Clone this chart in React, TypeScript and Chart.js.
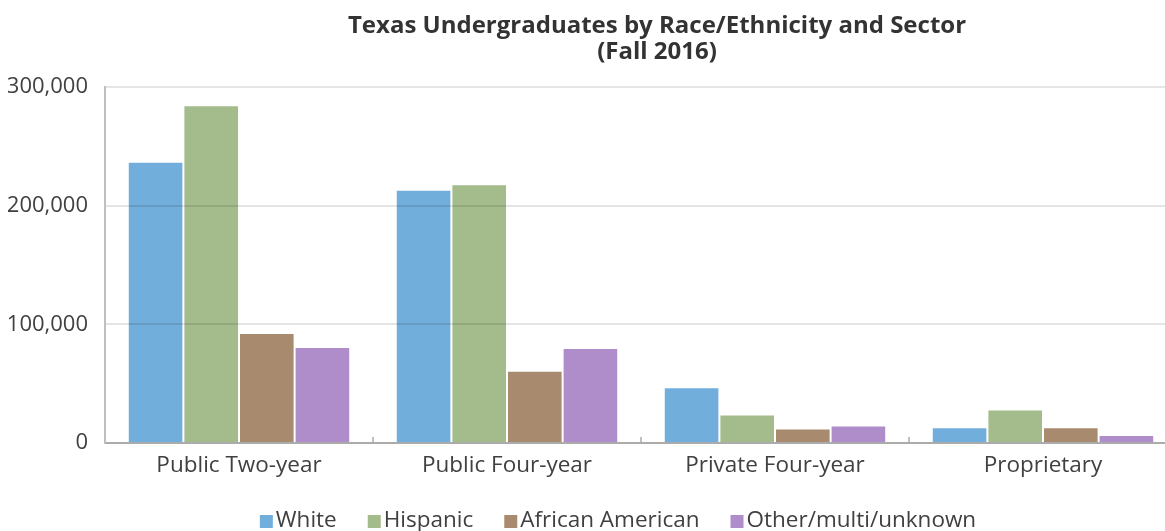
import React, { useEffect, useRef } from 'react';
import { Chart, registerables } from 'chart.js';

Chart.register(...registerables);

const categories = ['Public Two-year', 'Public Four-year', 'Private Four-year', 'Proprietary'];
const seriesLabels = ['White', 'Hispanic', 'African American', 'Other/multi/unknown'];
const whiteValues = [237000, 213500, 47000, 13300];
const hispanicValues = [284700, 218000, 24000, 28200];
const africanAmericanValues = [92600, 60800, 12200, 13300];
const otherValues = [80800, 80000, 14700, 6800];
const yTickValues = [0, 100000, 200000, 300000];
const titleLines = ['Texas Undergraduates by Race/Ethnicity and Sector', '(Fall 2016)'];

const seriesColors = ['#72aedb', '#a4bb8c', '#a88b6e', '#af8cca'];
const FONT = '"Open Sans", "Noto Sans", sans-serif';
const TEXT = '#404040';

const titlePlugin = {
  id: 'customTitle',
  afterDraw(chart: any) {
    const ctx = chart.ctx;
    ctx.save();
    ctx.fillStyle = '#333333';
    ctx.textAlign = 'center';
    ctx.textBaseline = 'middle';
    ctx.font = `bold 24px ${FONT}`;
    ctx.fillText(titleLines[0], 657, 26);
    ctx.fillText(titleLines[1], 657, 52);
    ctx.restore();
  },
};

const legendPlugin = {
  id: 'customLegend',
  afterDraw(chart: any) {
    const ctx = chart.ctx;
    ctx.save();
    ctx.font = `22.5px ${FONT}`;
    const box = 13;
    const gap = 3;
    const spacing = 31;
    const widths = seriesLabels.map((l) => box + gap + ctx.measureText(l).width);
    const total = widths.reduce((a, b) => a + b, 0) + spacing * (seriesLabels.length - 1);
    let x = 618 - total / 2;
    const cy = 521;
    ctx.textBaseline = 'middle';
    ctx.textAlign = 'left';
    seriesLabels.forEach((l, i) => {
      ctx.fillStyle = seriesColors[i];
      ctx.fillRect(x, cy - 6, box, box);
      ctx.fillStyle = TEXT;
      ctx.fillText(l, x + box + gap, cy);
      x += widths[i] + spacing;
    });
    ctx.restore();
  },
};

const tickMarkPlugin = {
  id: 'categoryTicks',
  afterDatasetsDraw(chart: any) {
    const ctx = chart.ctx;
    const xs = chart.scales.x;
    const bottom = chart.chartArea.bottom;
    ctx.save();
    ctx.strokeStyle = '#bfbfbf';
    ctx.lineWidth = 2;
    for (let i = 1; i < categories.length; i++) {
      const px = (xs.getPixelForValue(i - 1) + xs.getPixelForValue(i)) / 2;
      ctx.beginPath();
      ctx.moveTo(px, bottom - 6);
      ctx.lineTo(px, bottom);
      ctx.stroke();
    }
    ctx.restore();
  },
};

export default function App() {
  const canvasRef = useRef<HTMLCanvasElement | null>(null);

  useEffect(() => {
    if (!canvasRef.current) return;
    const seriesValues = [whiteValues, hispanicValues, africanAmericanValues, otherValues];
    const chart = new Chart(canvasRef.current, {
      type: 'bar',
      data: {
        labels: categories,
        datasets: seriesLabels.map((label, i) => ({
          label,
          data: seriesValues[i],
          backgroundColor: seriesColors[i],
          borderColor: 'rgba(255,255,255,0.2)',
          borderWidth: 1,
          categoryPercentage: 0.83,
          barPercentage: 1.0,
        })),
      },
      options: {
        responsive: true,
        maintainAspectRatio: false,
        animation: false,
        layout: { padding: { left: 8, right: 23, top: 87, bottom: 48 } },
        plugins: {
          title: { display: false },
          tooltip: { enabled: false },
          legend: { display: false },
        },
        scales: {
          x: {
            grid: { display: false, drawTicks: false },
            border: { display: true, color: '#bfbfbf', width: 2 },
            ticks: { color: TEXT, font: { family: FONT, size: 22.5 }, padding: 9 },
            afterFit: (s: any) => {
              s.height = 40;
            },
          },
          y: {
            min: 0,
            max: 300000,
            afterBuildTicks: (s: any) => {
              s.ticks = yTickValues.map((v) => ({ value: v }));
            },
            grid: { color: 'rgba(0,0,0,0.1)', lineWidth: 2, drawTicks: false, z: 1 },
            border: { display: true, color: '#bfbfbf', width: 2, z: 1 },
            ticks: {
              color: TEXT,
              padding: 17,
              font: { family: FONT, size: 22 },
              callback: (v: any) => Number(v).toLocaleString('en-US'),
            },
            afterFit: (s: any) => {
              s.width = 97;
            },
          },
        },
      },
      plugins: [titlePlugin, legendPlugin, tickMarkPlugin],
    });
    return () => chart.destroy();
  }, []);

  return (
    <div
      style={{
        position: 'fixed',
        left: 0,
        top: 0,
        width: 1165,
        height: 531,
        overflow: 'hidden',
        background: '#ffffff',
      }}
    >
      <div style={{ position: 'relative', width: 1200, height: 531 }}>
        <canvas ref={canvasRef} />
      </div>
    </div>
  );
}
